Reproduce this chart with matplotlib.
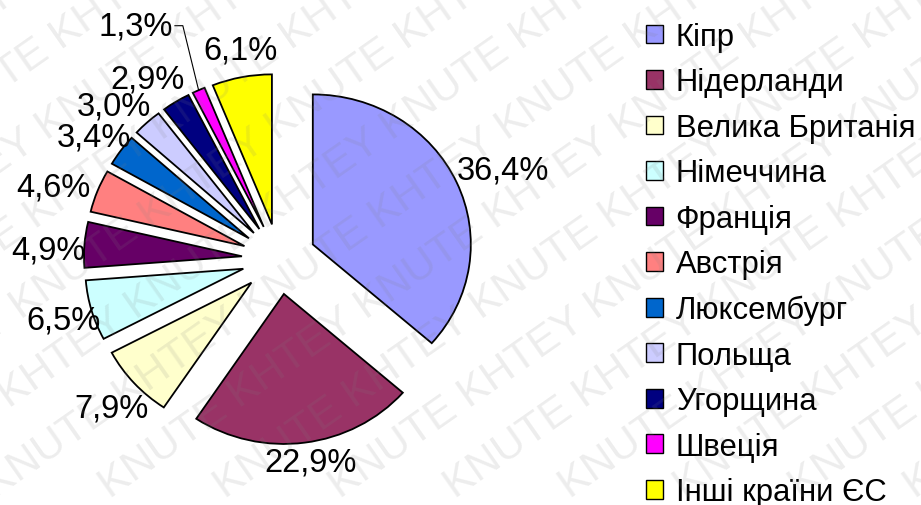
import numpy as np
import matplotlib
matplotlib.use("Agg")
import matplotlib.pyplot as plt
from matplotlib.patches import Patch

plt.rcParams['font.family'] = ['Liberation Sans', 'DejaVu Sans']

# data
countries = ['Кіпр', 'Нідерланди', 'Велика Британія', 'Німеччина', 'Франція',
             'Австрія', 'Люксембург', 'Польща', 'Угорщина', 'Швеція', 'Інші країни ЄС']
shares = [36.4, 22.9, 7.9, 6.5, 4.9, 4.6, 3.4, 3.0, 2.9, 1.3, 6.1]
colors = ['#9999FF', '#993366', '#FFFFCC', '#CCFFFF', '#660066', '#FF8080',
          '#0066CC', '#CCCCFF', '#000080', '#FF00FF', '#FFFF00']
pct_labels = [('%.1f%%' % v).replace('.', ',') for v in shares]

# small hand nudges of the % labels (pixels, +y = down), like excel puts them
label_nudge = [(0, -5), (-1, 2), (9, 13), (12, 5), (6, 7), (-5, 2),
               (7, -3), (-5, -4), (-6, -8), (0, 0), (7, -10)]

W, H = 921, 506
cx, cy = 279, 260      # pie centre in pixels
sx, sy = 158, 150      # excel stretches the pie a bit horizontally

fig = plt.figure(figsize=(W / 100, H / 100), dpi=100)
ax = fig.add_axes([0, 0, 1, 1])

expl = 0.235
wedges, texts = ax.pie(shares, colors=colors, startangle=90, counterclock=False,
                       explode=[expl] * len(shares), radius=1,
                       labels=pct_labels, labeldistance=1.05,
                       wedgeprops=dict(edgecolor='black', linewidth=1.3),
                       textprops=dict(fontsize=23.5, color='black'))

ax.set_aspect('auto')
ax.set_xlim(-cx / sx, (W - cx) / sx)
ax.set_ylim((cy - H) / sy, cy / sy)
ax.axis('off')

# excel-like label placement: box pushed out from the slice edge
fig.canvas.draw()
rend = fig.canvas.get_renderer()
gap = 5
i_sw = countries.index('Швеція')
for k, (w, t) in enumerate(zip(wedges, texts)):
    if k == i_sw:
        continue
    th = np.deg2rad((w.theta1 + w.theta2) / 2)
    ux, uy = np.cos(th), np.sin(th)
    bb = t.get_window_extent(rend)
    px = (1 + expl) * ux + (ux * (gap + bb.width / 2) + label_nudge[k][0]) / sx
    py = (1 + expl) * uy + (uy * (gap + bb.height / 2 * 0.8) - label_nudge[k][1]) / sy
    t.set_position((px, py))
    t.set_ha('center')
    t.set_va('center')

# small slice (Швеція) label pulled out with a leader line
w = wedges[i_sw]
th = np.deg2rad((w.theta1 + w.theta2) / 2)
ex, ey = (1 + expl) * np.cos(th), (1 + expl) * np.sin(th)
lx, ly = ex - 0.10, ey + 0.43
texts[i_sw].set_position((lx - 0.06, ly))
texts[i_sw].set_ha('right')
texts[i_sw].set_va('center')
ax.plot([lx - 0.05, lx, ex], [ly, ly, ey], color='black', lw=0.8)

handles = [Patch(facecolor=c, edgecolor='black', linewidth=1.0) for c in colors]
fig.legend(handles, countries, loc='upper left', bbox_to_anchor=(646 / W, 1 - 23 / H),
           frameon=False, fontsize=22.3, borderpad=0, borderaxespad=0,
           handlelength=0.56, handleheight=0.56, handletextpad=0.4, labelspacing=0.50)

# watermark
for k in range(-12, 14):
    x0 = k * 115
    fig.text(x0 / W, 0, 'KNUTE KHTEY ' * 6, rotation=35, rotation_mode='anchor',
             fontsize=31, color='gray', alpha=0.14, ha='left', va='bottom',
             transform=fig.transFigure, zorder=10)

fig.savefig('out.png', dpi=100, facecolor='white')
